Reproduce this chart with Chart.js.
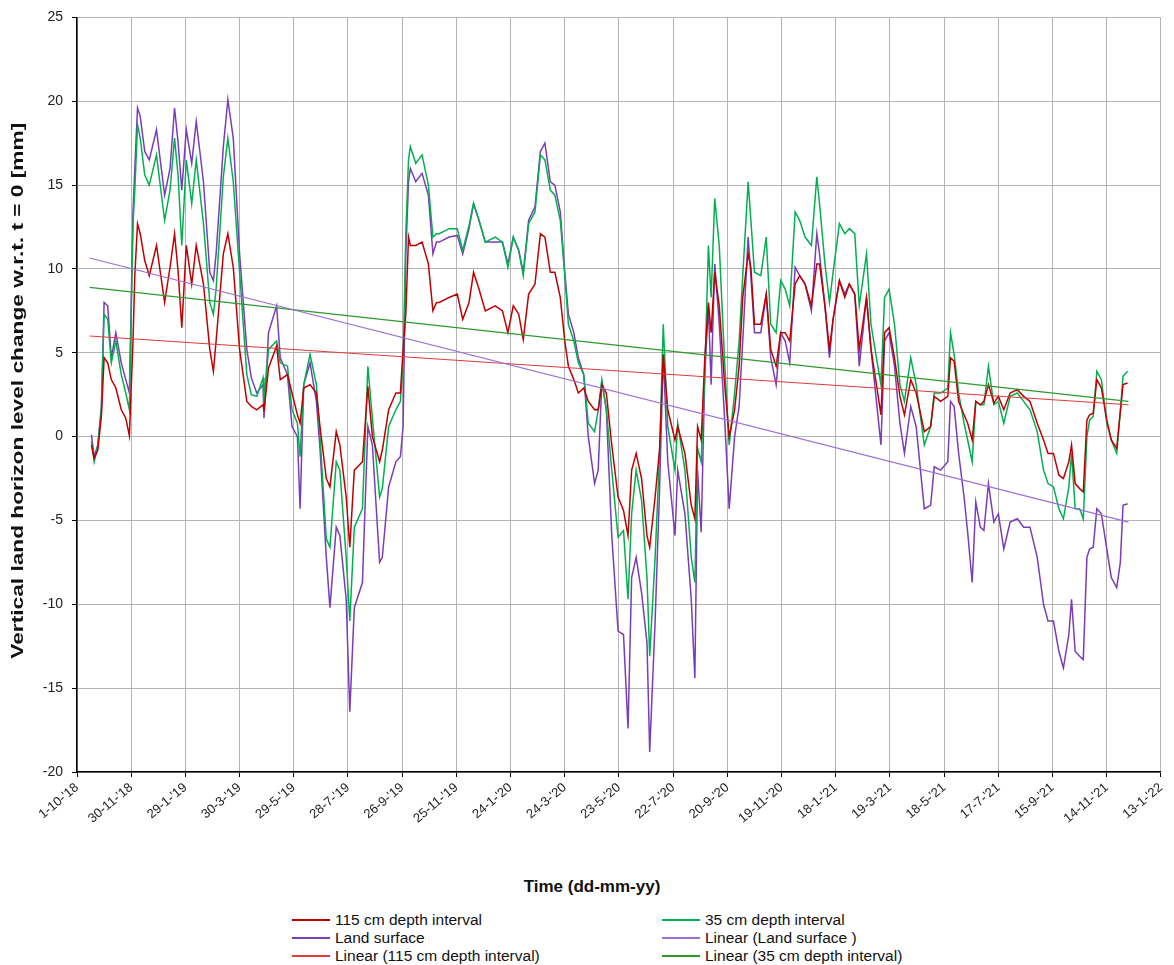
<!DOCTYPE html>
<html>
<head>
<meta charset="utf-8">
<script src="https://cdn.jsdelivr.net/npm/chart.js@4.4.1/dist/chart.umd.min.js"></script>
<style>
body { margin: 0; background: #fff; font-family: 'Liberation Sans', Arial, sans-serif; }
#wrap { position: relative; width: 1174px; height: 965px; }
#chart { position: absolute; left: 0; top: 0; }
#xtitle { position: absolute; top: 877px; left: 0; width: 1184px; text-align: center; font-weight: bold; font-size: 17px; color: #111; }
.leg { position: absolute; font-size: 15.5px; color: #111; display: flex; align-items: center; height: 18px; white-space: nowrap; }
.leg i { display: inline-block; width: 38px; height: 0; border-top: 2px solid; margin-right: 5px; }
</style>
</head>
<body>
<div id="wrap">
  <canvas id="chart" width="1174" height="870"></canvas>
  <div id="xtitle">Time (dd-mm-yy)</div>
  <div id="legend"></div>
</div>
<script>
// --- DATA (x = days since 1-10-2018) ---
const days = [16, 19, 23, 27, 30, 34, 38, 43, 49, 54, 58, 62, 64, 67, 70, 75, 80, 88, 97, 103, 108, 112, 116, 121, 127, 132, 140, 147, 151, 154, 162, 167, 173, 180, 188, 193, 199,
  206, 207, 212, 221, 225, 233, 238, 244, 247, 251, 258, 265, 269, 276, 280, 287, 291, 298, 302, 307, 316, 322, 327, 335, 338, 345, 353, 358, 361, 364, 367, 369, 375, 382, 389, 394, 398,
  401, 412, 421, 427, 434, 439, 445, 452, 463, 471, 477, 483, 489, 494, 500, 507, 513, 518, 524, 529, 535, 540, 544, 550, 555, 561, 566, 573, 577, 581, 586, 592, 599,
  605, 610, 614, 619, 625, 631, 634, 640, 645, 649, 654, 662, 665, 673, 680, 684, 687, 691, 695, 699, 702, 706, 711, 717, 722, 728, 733, 737, 743, 746, 750, 757, 763, 768, 774, 779,
  784, 789, 795, 800, 806, 813, 819, 822, 828, 833, 837, 844, 850, 855, 861, 866, 874, 879, 885, 890, 894, 899, 905, 911, 916, 923, 929, 938, 945, 949, 956, 964, 967, 971, 976, 982,
  986, 991, 995, 1000, 1004, 1009, 1015, 1020, 1026, 1033, 1041, 1048, 1055, 1063, 1070, 1075, 1081, 1087, 1092, 1098, 1101, 1105, 1110, 1114, 1118, 1121, 1125, 1129, 1134, 1140, 1145, 1151, 1155, 1158, 1163];

const depth115 = [-0.5, -1.3, -0.8, 1.2, 4.7, 4.4, 3.4, 2.9, 1.6, 1.1, 0.05, 5.7, 9.6, 12.7, 12.1, 10.5, 9.6, 11.4, 8.0, 10.1, 12.1, 9.8, 6.5, 11.4, 9.1, 11.4, 9.1, 5.2, 3.9, 5.7, 10.9, 12.1, 10.1, 5.2, 2.1, 1.8, 1.6,
  1.9, 1.5, 4.1, 5.4, 3.4, 3.7, 2.6, 1.3, 0.8, 2.9, 3.1, 2.6, 0.6, -2.5, -3.0, 0.3, -0.5, -3.6, -6.6, -2.0, -1.5, 3.0, 0.0, -1.5, -0.8, 1.6, 2.6, 2.6, 5.2, 7.3, 11.9, 11.4, 11.4, 11.6, 10.3, 7.5, 8.0,
  8.0, 8.3, 8.5, 7.0, 8.0, 9.8, 8.8, 7.5, 7.8, 7.5, 6.2, 7.8, 7.3, 5.8, 8.5, 9.1, 12.1, 11.9, 9.8, 9.8, 8.3, 5.7, 4.2, 3.4, 2.6, 2.9, 2.1, 1.6, 1.6, 3.1, 2.6, -0.5, -3.6,
  -4.4, -5.9, -2.0, -1.0, -2.5, -5.9, -6.6, -3.6, -0.7, 4.9, 1.6, -0.2, 0.6, -1.0, -4.1, -4.9, 0.6, -0.2, 4.7, 8.0, 6.2, 9.8, 7.8, 3.1, 0.0, 1.6, 4.2, 8.3, 10.9, 10.1, 6.7, 6.7, 8.5, 5.2, 4.2, 6.2,
  6.2, 5.7, 9.1, 9.6, 9.1, 7.8, 10.3, 10.3, 7.8, 5.2, 7.0, 9.3, 8.3, 9.1, 8.5, 5.2, 8.3, 5.2, 3.1, 1.3, 6.2, 6.5, 4.7, 2.4, 1.3, 3.4, 2.6, 0.3, 0.6, 2.4, 2.1, 2.4, 4.7, 4.5, 2.1, 1.3,
  0.8, -0.2, 2.1, 1.9, 2.1, 3.1, 2.0, 2.4, 1.6, 2.6, 2.8, 2.4, 2.1, 0.8, -0.2, -1.0, -1.0, -2.3, -2.5, -1.5, -0.5, -2.8, -3.1, -3.3, 1.0, 1.3, 1.4, 3.4, 2.9, 1.0, -0.2, -0.7, 1.5, 3.1, 3.2];

const depth35 = [-0.3, -1.5, -0.6, 1.6, 7.3, 7.0, 4.4, 5.7, 3.7, 2.6, 1.6, 12.7, 14.7, 18.6, 17.8, 15.6, 15.0, 16.8, 12.9, 14.7, 17.8, 15.5, 11.4, 16.5, 13.9, 16.5, 12.7, 8.0, 7.3, 8.8, 15.5, 17.8, 15.2, 9.8, 3.7, 2.5, 2.4,
  3.5, 2.0, 5.2, 5.7, 4.4, 4.2, 1.6, 0.8, -1.2, 3.1, 4.9, 3.1, 0.0, -6.1, -6.6, -1.5, -2.0, -7.2, -11.0, -5.4, -4.3, 4.2, 1.1, -3.6, -3.1, 0.6, 1.6, 2.1, 4.4, 12.1, 16.5, 17.3, 16.3, 16.8, 15.0, 11.9, 12.1,
  12.1, 12.4, 12.4, 11.1, 12.6, 13.9, 12.9, 11.6, 11.9, 11.6, 10.1, 11.9, 11.1, 9.6, 12.7, 13.4, 16.8, 16.5, 14.7, 14.4, 12.9, 9.6, 6.7, 5.7, 4.4, 3.7, 0.8, 0.3, 1.6, 3.4, 1.6, -2.0, -6.0,
  -5.6, -9.7, -4.6, -2.0, -3.8, -8.4, -13.1, -7.2, -1.0, 6.7, 0.6, -2.0, 0.8, -2.0, -7.2, -8.7, -0.7, -1.5, 3.7, 11.4, 8.3, 14.2, 11.4, 4.4, -0.5, 2.6, 5.7, 9.6, 15.2, 12.9, 9.8, 9.6, 11.9, 6.7, 6.2, 9.3,
  8.8, 7.8, 13.4, 12.9, 11.9, 11.4, 15.5, 13.9, 10.3, 8.0, 9.8, 12.7, 12.1, 12.4, 12.1, 7.8, 10.9, 6.7, 4.7, 3.1, 8.3, 8.8, 6.7, 3.1, 2.1, 4.7, 3.1, -0.5, 0.6, 2.6, 2.6, 2.9, 6.2, 4.9, 2.6, 0.8,
  -0.2, -1.5, 2.1, 1.9, 1.9, 4.2, 1.9, 2.1, 0.8, 2.4, 2.6, 2.1, 1.6, 0.3, -2.0, -2.8, -3.0, -4.3, -4.9, -3.0, -1.0, -4.3, -4.3, -4.9, 0.0, 1.0, 1.2, 3.9, 3.4, 0.8, -0.2, -1.0, 1.5, 3.6, 3.9];

const landSurface = [0.1, -1.2, -0.5, 1.8, 8.0, 7.8, 4.7, 6.2, 4.4, 3.4, 2.6, 13.4, 16.0, 19.6, 19.1, 17.0, 16.5, 18.3, 14.4, 16.0, 19.6, 17.5, 14.7, 18.3, 16.3, 18.8, 15.2, 9.8, 9.3, 10.9, 17.3, 20.1, 17.8, 10.9, 5.2, 3.5, 2.6,
  3.1, 1.1, 6.2, 7.8, 4.7, 3.7, 0.6, 0.0, -4.3, 3.1, 4.4, 2.1, -0.7, -7.2, -10.2, -5.4, -5.9, -9.7, -16.4, -10.2, -8.7, 0.6, -0.5, -7.5, -7.2, -3.0, -1.5, -1.2, 0.6, 10.9, 15.2, 16.0, 15.2, 15.7, 14.4, 10.9, 11.6,
  11.6, 11.9, 12.0, 10.9, 12.4, 13.9, 12.9, 11.6, 11.6, 11.6, 10.3, 11.9, 11.1, 9.8, 12.9, 13.7, 17.0, 17.5, 15.2, 15.0, 13.4, 9.8, 7.3, 6.2, 4.7, 3.7, 0.0, -2.8, -2.0, 3.3, 1.6, -5.9, -11.6,
  -11.8, -17.4, -8.4, -7.2, -9.3, -12.3, -18.8, -11.0, -3.0, 4.9, -1.5, -5.9, -2.0, -4.6, -9.7, -14.4, -2.0, -5.7, 3.7, 7.8, 3.1, 10.3, 6.7, 1.0, -4.3, 0.0, 1.8, 5.7, 11.9, 9.6, 6.2, 6.2, 8.5, 4.7, 3.1, 6.2,
  5.7, 4.4, 10.1, 9.6, 9.1, 7.5, 12.1, 10.9, 7.8, 4.7, 7.0, 9.3, 8.5, 9.1, 8.5, 4.2, 8.3, 5.2, 2.1, -0.5, 5.7, 6.2, 4.2, 0.8, -1.0, 1.8, 0.6, -4.3, -4.1, -1.8, -2.0, -1.5, 2.1, 1.8, -1.0, -3.6,
  -5.7, -8.7, -3.9, -5.4, -5.6, -2.8, -5.1, -4.6, -6.7, -5.1, -4.9, -5.4, -5.4, -7.2, -10.0, -11.0, -11.0, -12.8, -13.8, -11.8, -9.7, -12.8, -13.1, -13.3, -7.2, -6.7, -6.6, -4.3, -4.6, -6.7, -8.4, -9.0, -7.5, -4.1, -4.0];

// trend lines: start / end of each fitted line
const trendDays = [14, 1164];
const trend115 = [6.0, 1.9];
const trend35 = [8.9, 2.1];
const trendLand = [10.65, -5.1];

const yTicks = [-20, 25, 5]; // min, max, step
const xTicks = [0, 1200, 60];
const yTitle = 'Vertical land horizon level change w.r.t. t = 0 [mm]';

const START = Date.UTC(2018, 9, 1);
function dayLabel(d) {
    const dt = new Date(START + d * 86400000);
    return dt.getUTCDate() + '-' + (dt.getUTCMonth() + 1) + "-'" + String(dt.getUTCFullYear()).slice(2);
}

const pts = (xs, ys) => xs.map((x, i) => ({ x: x, y: ys[i] }));

const series = [
    { label: '115 cm depth interval', data: pts(days, depth115), color: '#c00000', width: 1.5, order: 1 },
    { label: '35 cm depth interval', data: pts(days, depth35), color: '#00b050', width: 1.5, order: 2 },
    { label: 'Land surface', data: pts(days, landSurface), color: '#7a3cb8', width: 1.5, order: 3 },
    { label: 'Linear (Land surface )', data: pts(trendDays, trendLand), color: '#9b6fd6', width: 1.2, order: 0 },
    { label: 'Linear (115 cm depth interval)', data: pts(trendDays, trend115), color: '#e03c3c', width: 1.2, order: 0 },
    { label: 'Linear (35 cm depth interval)', data: pts(trendDays, trend35), color: '#2e9a2e', width: 1.2, order: 0 }
];

// y title drawn by hand: the original is stretched along its length
const yTitlePlugin = {
    id: 'yTitle',
    afterDraw(chart) {
        const ctx = chart.ctx;
        const area = chart.chartArea;
        ctx.save();
        ctx.font = "bold 16px 'Liberation Sans', Arial, sans-serif";
        const w = ctx.measureText(yTitle).width;
        ctx.translate(19, (area.top + area.bottom) / 2 - 4);
        ctx.rotate(-Math.PI / 2);
        ctx.scale(536 / w, 1);
        ctx.fillStyle = '#111';
        ctx.textAlign = 'center';
        ctx.textBaseline = 'middle';
        ctx.fillText(yTitle, 0, 0);
        ctx.restore();
    }
};

new Chart(document.getElementById('chart'), {
    type: 'line',
    data: {
        datasets: series.map(s => ({
            label: s.label,
            data: s.data,
            borderColor: s.color,
            backgroundColor: s.color,
            borderWidth: s.width,
            pointRadius: 0,
            tension: 0,
            order: s.order
        }))
    },
    options: {
        responsive: false,
        animation: false,
        layout: { padding: { top: 16, right: 10, left: 0, bottom: 0 } },
        plugins: { legend: { display: false }, tooltip: { enabled: false } },
        scales: {
            x: {
                type: 'linear',
                min: xTicks[0], max: xTicks[1],
                afterFit: s => { s.height = 98; },
                afterBuildTicks: s => {
                    const t = [];
                    for (let v = xTicks[0]; v <= xTicks[1]; v += xTicks[2]) t.push({ value: v });
                    s.ticks = t;
                },
                ticks: {
                    callback: v => dayLabel(v),
                    minRotation: 40, maxRotation: 40,
                    autoSkip: false,
                    color: '#222',
                    font: { family: "'Liberation Sans', Arial, sans-serif", size: 13 }
                },
                grid: { color: '#b4b4b4', lineWidth: 1, tickColor: '#000', tickLength: 5 },
                border: { color: '#000', width: 1.5 }
            },
            y: {
                min: yTicks[0], max: yTicks[1],
                afterFit: s => { s.width = 77; },
                ticks: {
                    stepSize: yTicks[2],
                    color: '#222',
                    padding: 9,
                    font: { family: "'Liberation Sans', Arial, sans-serif", size: 14 }
                },
                grid: { color: '#b4b4b4', lineWidth: 1, tickColor: '#000', tickLength: 5 },
                border: { color: '#000', width: 1.5 }
            }
        }
    },
    plugins: [yTitlePlugin]
});

// legend in two columns, as in the original
const legendRows = [
    [0, 1],
    [2, 3],
    [4, 5]
];
const legend = document.getElementById('legend');
legendRows.forEach((row, r) => {
    row.forEach((idx, c) => {
        const s = series[idx];
        const el = document.createElement('div');
        el.className = 'leg';
        el.style.left = (c === 0 ? 292 : 662) + 'px';
        el.style.top = (911 + r * 18) + 'px';
        el.innerHTML = '<i style="border-color:' + s.color + '"></i>' + s.label;
        legend.appendChild(el);
    });
});
</script>
</body>
</html>
